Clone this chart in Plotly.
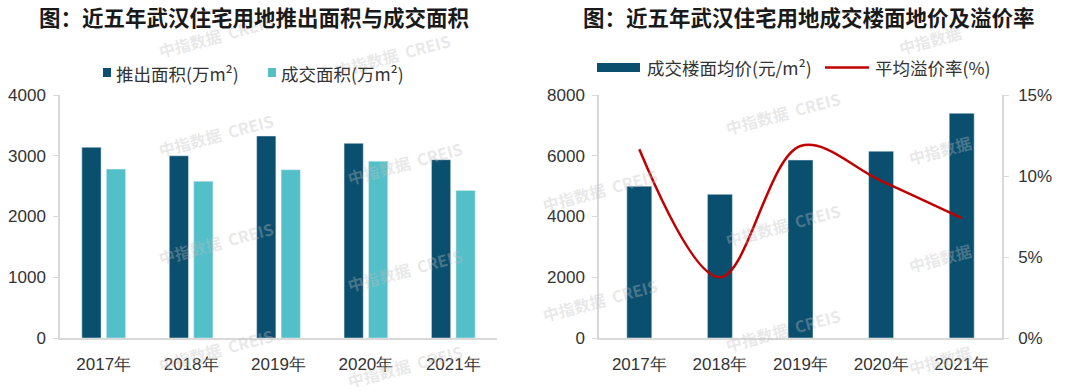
import plotly.graph_objects as go

W, H = 1080, 392

years = ["2017年", "2018年", "2019年", "2020年", "2021年"]
supply_area = [3140, 3000, 3325, 3205, 2935]      # 推出面积(万m²)
deal_area = [2780, 2580, 2770, 2910, 2430]        # 成交面积(万m²)
floor_price = [5000, 4730, 5860, 6150, 7400]      # 成交楼面均价(元/m²)
premium_rate = [11.65, 3.75, 11.85, 9.7, 7.4]     # 平均溢价率(%)

DARK = "#0b4f6f"
LIGHT = "#52bfc9"
RED = "#c00000"
AXIS = "#d9d9d9"
TXT = "#333333"
FONT = "Liberation Sans, Arial, sans-serif"
CJK = "Noto Sans CJK SC, sans-serif"


def px(x):
    return x / W


def py(y):
    return 1 - y / H


fig = go.Figure()

# Left chart bars
fig.add_trace(go.Bar(x=years, y=supply_area, name="推出面积(万m²)", marker_color=DARK,
                     width=0.22, offset=-0.25, xaxis="x", yaxis="y", showlegend=False))
fig.add_trace(go.Bar(x=years, y=deal_area, name="成交面积(万m²)", marker_color=LIGHT,
                     width=0.22, offset=0.03, xaxis="x", yaxis="y", showlegend=False))

# Right chart
fig.add_trace(go.Bar(x=years, y=floor_price, name="成交楼面均价(元/m²)", marker_color=DARK,
                     width=0.31, offset=-0.155, xaxis="x2", yaxis="y2", showlegend=False))
fig.add_trace(go.Scatter(x=years, y=premium_rate, name="平均溢价率(%)", mode="lines",
                         line=dict(color=RED, width=2.5, shape="spline", smoothing=1.0),
                         xaxis="x2", yaxis="y3", showlegend=False))

ydom = [py(338), py(95)]
tickfont = dict(family=FONT, size=17, color=TXT)

axis_common = dict(showgrid=False, zeroline=False, showline=True, linecolor=AXIS, linewidth=1.5,
                   automargin=False, fixedrange=True)

fig.update_layout(
    width=W, height=H,
    margin=dict(l=0, r=0, t=0, b=0, pad=0),
    paper_bgcolor="white", plot_bgcolor="white",
    barmode="overlay",
    xaxis=dict(domain=[px(60), px(497)], anchor="y", ticks="", tickfont=tickfont,
               ticklabelstandoff=10, **axis_common),
    yaxis=dict(domain=ydom, anchor="x", range=[0, 4000], dtick=1000, ticks="outside",
               ticklen=5, tickcolor=AXIS, tickfont=tickfont, ticklabelstandoff=4, **axis_common),
    xaxis2=dict(domain=[px(599), px(1002)], anchor="y2", ticks="", tickfont=tickfont,
                ticklabelstandoff=10, **axis_common),
    yaxis2=dict(domain=ydom, anchor="x2", range=[0, 8000], dtick=2000, ticks="outside",
                ticklen=5, tickcolor=AXIS, tickfont=tickfont, ticklabelstandoff=4, **axis_common),
    yaxis3=dict(overlaying="y2", anchor="x2", side="right", range=[0, 15], dtick=5,
                ticksuffix="%", ticks="outside", ticklen=5, tickcolor=AXIS, tickfont=tickfont,
                ticklabelstandoff=6, **axis_common),
)

annotations = []
shapes = []


def note(x, y, text, font, xanchor="center", angle=0):
    annotations.append(dict(x=px(x), y=py(y), xref="paper", yref="paper", text=text,
                            showarrow=False, xanchor=xanchor, yanchor="middle",
                            textangle=angle, font=font))


# Watermarks
wm_font = dict(family=CJK, size=16, color="rgba(190,190,190,0.35)")
wm_full = [(216, 36), (393, 55), (216, 135), (405, 163), (216, 243), (405, 270),
           (216, 350), (405, 366), (783, 113), (783, 225), (783, 330), (600, 190), (600, 300)]
for (x, y) in wm_full:
    note(x, y, "<b>中指数据  CREIS</b>", wm_font, angle=-15)
for (x, y) in [(930, 40), (940, 150), (940, 258), (940, 360)]:
    note(x, y, "<b>中指数据</b>", wm_font, angle=-15)

# Titles
title_font = dict(family=CJK, size=21.5, color="#1a1a1a")
note(254, 16, "<b>图：近五年武汉住宅用地推出面积与成交面积</b>", title_font)
note(809, 16, "<b>图：近五年武汉住宅用地成交楼面地价及溢价率</b>", title_font)

legfont = dict(family=CJK, size=17.5, color=TXT)

# Left legend
shapes.append(dict(type="rect", xref="paper", yref="paper", x0=px(103), x1=px(111),
                   y0=py(77), y1=py(68), fillcolor=DARK, line=dict(width=0)))
note(114, 73, "推出面积(万m²)", legfont, xanchor="left")
shapes.append(dict(type="rect", xref="paper", yref="paper", x0=px(268), x1=px(276),
                   y0=py(77), y1=py(68), fillcolor=LIGHT, line=dict(width=0)))
note(279, 73, "成交面积(万m²)", legfont, xanchor="left")

# Right legend
shapes.append(dict(type="rect", xref="paper", yref="paper", x0=px(597), x1=px(640),
                   y0=py(72), y1=py(63), fillcolor=DARK, line=dict(width=0)))
note(645, 68, "成交楼面均价(元/m²)", legfont, xanchor="left")
shapes.append(dict(type="line", xref="paper", yref="paper", x0=px(825), x1=px(869),
                   y0=py(67.5), y1=py(67.5), line=dict(color=RED, width=2.5)))
note(873, 68, "平均溢价率(%)", legfont, xanchor="left")

fig.update_layout(annotations=annotations, shapes=shapes)

fig.write_html(
    "out.html",
    config={"displayModeBar": False},
    post_script="document.body.style.margin='0';document.body.style.overflow='hidden';",
)
